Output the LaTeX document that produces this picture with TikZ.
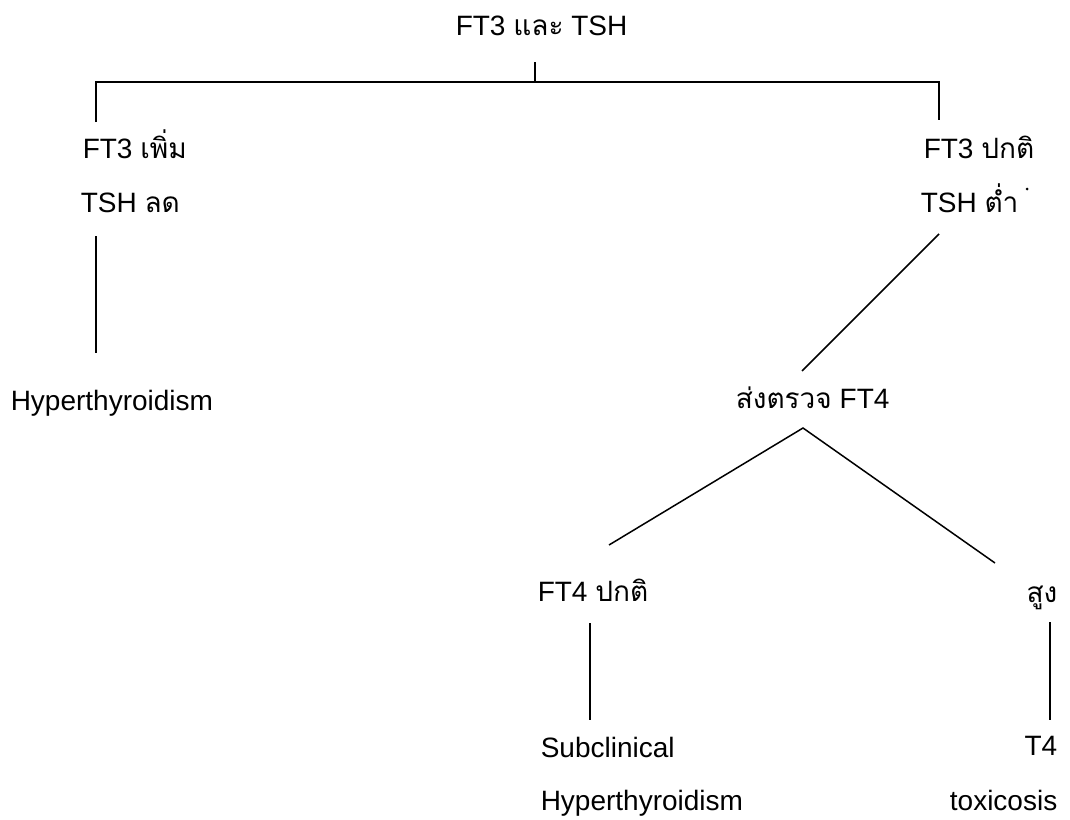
\documentclass[tikz,border=0pt]{standalone}
\usepackage{fontspec}
\setmainfont{Liberation Sans}
\newfontfamily\thaitext[Script=Thai]{Loma}
\usetikzlibrary{positioning}

\begin{document}
\begin{tikzpicture}[x=1pt,y=-1pt,line width=1.5pt,
    every node/.style={font=\fontsize{28}{32}\selectfont,inner sep=0pt,anchor=base west}]
  \useasboundingbox[fill=white] (0,0) rectangle (1070,819);

  % labels
  \node (root)  at (455,35)  {FT3 {\thaitext และ} TSH};
  \node (up)    at (82,158)  {FT3 {\thaitext เพิ่ม}};
  \node (ul)    at (80,212)  {TSH {\thaitext ลด}};
  \node (hyper) at (10,410)  {Hyperthyroidism};
  \node (np)    at (923,158) {FT3 {\thaitext ปกติ}};
  \node (nl)    at (920,212) {TSH {\thaitext ต่ำ}};
  \fill (nl.base east) ++(8,-23) circle (1.5);
  \node (send)  at (735,408) {{\thaitext ส่งตรวจ} FT4};
  \node (ftn)   at (537,601) {FT4 {\thaitext ปกติ}};
  \node[anchor=base east] (high) at (1058,602) {{\thaitext สูง}};
  \node (sub)   at (540,757) {Subclinical};
  \node (subh)  at (540,810) {Hyperthyroidism};
  \node[anchor=base east] (tf)  at (1058,755) {T4};
  \node[anchor=base east] (tox) at (1058,810) {toxicosis};

  % joints
  \coordinate (rt) at (535,62);  \coordinate (rb) at (535,81);
  \coordinate (bl) at (96,82);   \coordinate (br) at (939,82);
  \coordinate (blo) at (96,122); \coordinate (bro) at (939,120);
  \coordinate (l1) at (96,236);  \coordinate (l2) at (96,353);
  \coordinate (d1) at (939,234); \coordinate (d2) at (802,371);
  \coordinate (ax) at (803,428);
  \coordinate (al) at (609,545); \coordinate (ar) at (995,563);
  \coordinate (v1) at (590,623); \coordinate (v2) at (590,720);
  \coordinate (w1) at (1050,622); \coordinate (w2) at (1050,720);

  % tree
  \draw (rt) -- (rb);
  \draw (blo) -- (bl) -- (br) -- (bro);
  \draw (l1) -- (l2);
  \draw (d1) -- (d2);
  \draw (al) -- (ax) -- (ar);
  \draw (v1) -- (v2);
  \draw (w1) -- (w2);
\end{tikzpicture}
\end{document}
